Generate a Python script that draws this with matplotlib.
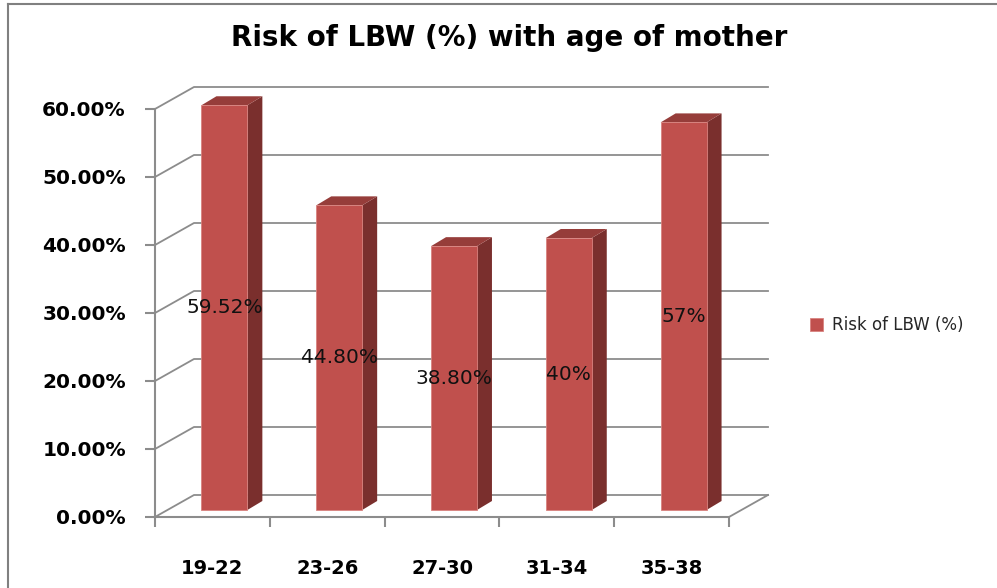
import matplotlib.pyplot as plt
from matplotlib.lines import Line2D
from matplotlib.patches import Polygon
from matplotlib.ticker import FuncFormatter

# Risk of LBW by maternal age group
age_groups = ["19-22", "23-26", "27-30", "31-34", "35-38"]
risk = [59.52, 44.80, 38.80, 40.00, 57.00]
value_labels = ["59.52%", "44.80%", "38.80%", "40%", "57%"]
y_ticks = [0, 10, 20, 30, 40, 50, 60]

W, H = 997, 588
face = "#C0504D"
side = "#7A2F2D"
top = "#963D3A"
grid_c = "#8C8C8C"

fig = plt.figure(figsize=(W / 100, H / 100), dpi=100)

# front plane of the pseudo-3D box, placed in pixel units
ax_l, ax_r, ax_b, ax_t = 155, 729, 517, 109
ax = fig.add_axes([ax_l / W, (H - ax_b) / H, (ax_r - ax_l) / W, (ax_b - ax_t) / H])
ax.set_xlim(-0.5, len(age_groups) - 0.5)
ax.set_ylim(0, 60)
ax.patch.set_visible(False)

# pixel -> data conversions for the depth offsets
px_x = (len(age_groups)) / (ax_r - ax_l)
px_y = 60 / (ax_b - ax_t)

# back wall / floor depth and bar plane depth (pixels)
depth_dx, depth_dy = 39, 22
bar_dx, bar_dy = 12, 7
bar_depth_dx, bar_depth_dy = 15, 9

x0, x1 = -0.5, len(age_groups) - 0.5
bx, by = depth_dx * px_x, depth_dy * px_y

# gridlines on the back wall plus the diagonals along the left wall
for t in y_ticks:
    ax.plot([x0, x0 + bx, x1 + bx], [t, t + by, t + by], color=grid_c, lw=1.3,
            clip_on=False, zorder=1)
# right edge of the floor
ax.plot([x1, x1 + bx], [0, by], color=grid_c, lw=1.3, clip_on=False, zorder=1)

# bars in the middle plane
xs = list(range(len(age_groups)))
w = 0.4
ox, oy = bar_dx * px_x, bar_dy * px_y
sx, sy = bar_depth_dx * px_x, bar_depth_dy * px_y
for x, v in zip(xs, risk):
    l, r = x - w / 2 + ox, x + w / 2 + ox
    ax.add_patch(Polygon([(r, oy), (r + sx, oy + sy), (r + sx, v + oy + sy), (r, v + oy)],
                         closed=True, facecolor=side, edgecolor="none", zorder=3,
                         clip_on=False))
    ax.add_patch(Polygon([(l, v + oy), (r, v + oy), (r + sx, v + oy + sy), (l + sx, v + oy + sy)],
                         closed=True, facecolor=top, edgecolor="none", zorder=3,
                         clip_on=False))
bars = ax.bar([x + ox for x in xs], risk, width=w, bottom=oy, color=face,
              edgecolor="#D9837F", linewidth=0.6, zorder=4, clip_on=False,
              label="Risk of LBW (%)")

for x, v, txt in zip(xs, risk, value_labels):
    ax.text(x + ox, v / 2 + oy, txt, ha="center", va="center", fontsize=14.5,
            color="#111111", zorder=5)

# axes: front vertical axis and floor front edge
for s in ["top", "right"]:
    ax.spines[s].set_visible(False)
for s in ["left", "bottom"]:
    ax.spines[s].set_color(grid_c)
    ax.spines[s].set_linewidth(1.5)

ax.set_yticks(y_ticks)
ax.yaxis.set_major_formatter(FuncFormatter(lambda v, p: f"{v:.2f}%"))
ax.tick_params(axis="y", length=7, width=1.5, color=grid_c, pad=14,
               labelsize=14.5)
ax.set_xticks([i - 0.5 for i in range(len(age_groups) + 1)])
ax.set_xticklabels([])
ax.set_xticks(xs, minor=True)
ax.set_xticklabels(age_groups, minor=True)
ax.tick_params(axis="x", which="major", length=7, width=1.5, color=grid_c,
               direction="out")
ax.tick_params(axis="x", which="minor", length=0, pad=30, labelsize=14)
for lab in ax.get_yticklabels() + ax.get_xticklabels(minor=True):
    lab.set_fontweight("bold")

fig.text(509 / W, 1 - 38 / H, "Risk of LBW (%) with age of mother",
         ha="center", va="center", fontsize=20, fontweight="bold")

fig.legend(handles=[bars], loc="center left", bbox_to_anchor=(810 / W, 1 - 325 / H),
           frameon=False, fontsize=12, labelcolor="#262626",
           handlelength=0.8, handleheight=0.8,
           handletextpad=0.5, borderaxespad=0, borderpad=0)

# outer frame
fig.add_artist(Line2D([8 / W, 8 / W], [0, 1 - 4 / H], color="#808080", lw=1.5))
fig.add_artist(Line2D([8 / W, 1], [1 - 4 / H, 1 - 4 / H], color="#808080", lw=1.5))

fig.savefig("out.png", dpi=100)
